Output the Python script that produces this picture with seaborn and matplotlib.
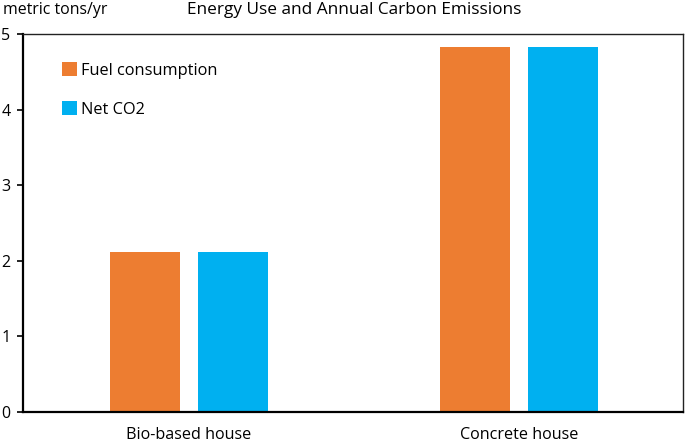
import matplotlib
matplotlib.use("Agg")
import matplotlib.pyplot as plt
import seaborn as sns
import pandas as pd

categories = ["Bio-based house", "Concrete house"]
series = ["Fuel consumption", "Net CO2"]
fuel_consumption = [2.12, 4.83]
net_co2 = [2.12, 4.83]
colors = ["#ED7D31", "#00B0F0"]

sns.set_theme(style="white")
plt.rcParams['font.family'] = ['Open Sans', 'DejaVu Sans']
plt.rcParams['text.color'] = 'black'
plt.rcParams['xtick.color'] = 'black'
plt.rcParams['ytick.color'] = 'black'

df = pd.DataFrame({
    "house": categories * 2,
    "series": [series[0]] * 2 + [series[1]] * 2,
    "value": fuel_consumption + net_co2,
})

fig = plt.figure(figsize=(6.85, 4.45), dpi=100)
ax = fig.add_axes([0.0336, 0.0742, 0.9634, 0.8494])
sns.barplot(data=df, x="house", y="value", hue="series", palette=colors,
            width=0.536, gap=0.21, ax=ax, errorbar=None, saturation=1,
            linewidth=0)
ax.set_xlim(-0.503, 1.497)
ax.set_ylim(0, 5)
ax.set_yticks([0, 1, 2, 3, 4, 5])
ax.set_xlabel("")
ax.set_ylabel("")
ax.tick_params(axis="y", direction="out", length=4, width=1.2, color="black",
               labelsize=11.5, pad=5, left=True, labelcolor="black")
ax.tick_params(axis="x", length=0, labelsize=11.6, pad=11, labelcolor="black")
for s in ["left", "bottom"]:
    ax.spines[s].set_linewidth(1.6)
    ax.spines[s].set_color("black")
for s in ["top", "right"]:
    ax.spines[s].set_linewidth(1.0)
    ax.spines[s].set_color("#222222")

leg = ax.legend(loc="upper left", bbox_to_anchor=(0.049, 0.943), frameon=False,
                fontsize=11.8, handlelength=0.9, handleheight=0.9,
                handletextpad=0.25, labelspacing=1.4, borderaxespad=0)

fig.text(0.005, 0.977, "metric tons/yr", fontsize=11.4, ha="left", va="center")
fig.text(0.517, 0.977, "Energy Use and Annual Carbon Emissions", fontsize=12.4,
         ha="center", va="center", fontweight="medium")

fig.savefig("out.png", dpi=100)
